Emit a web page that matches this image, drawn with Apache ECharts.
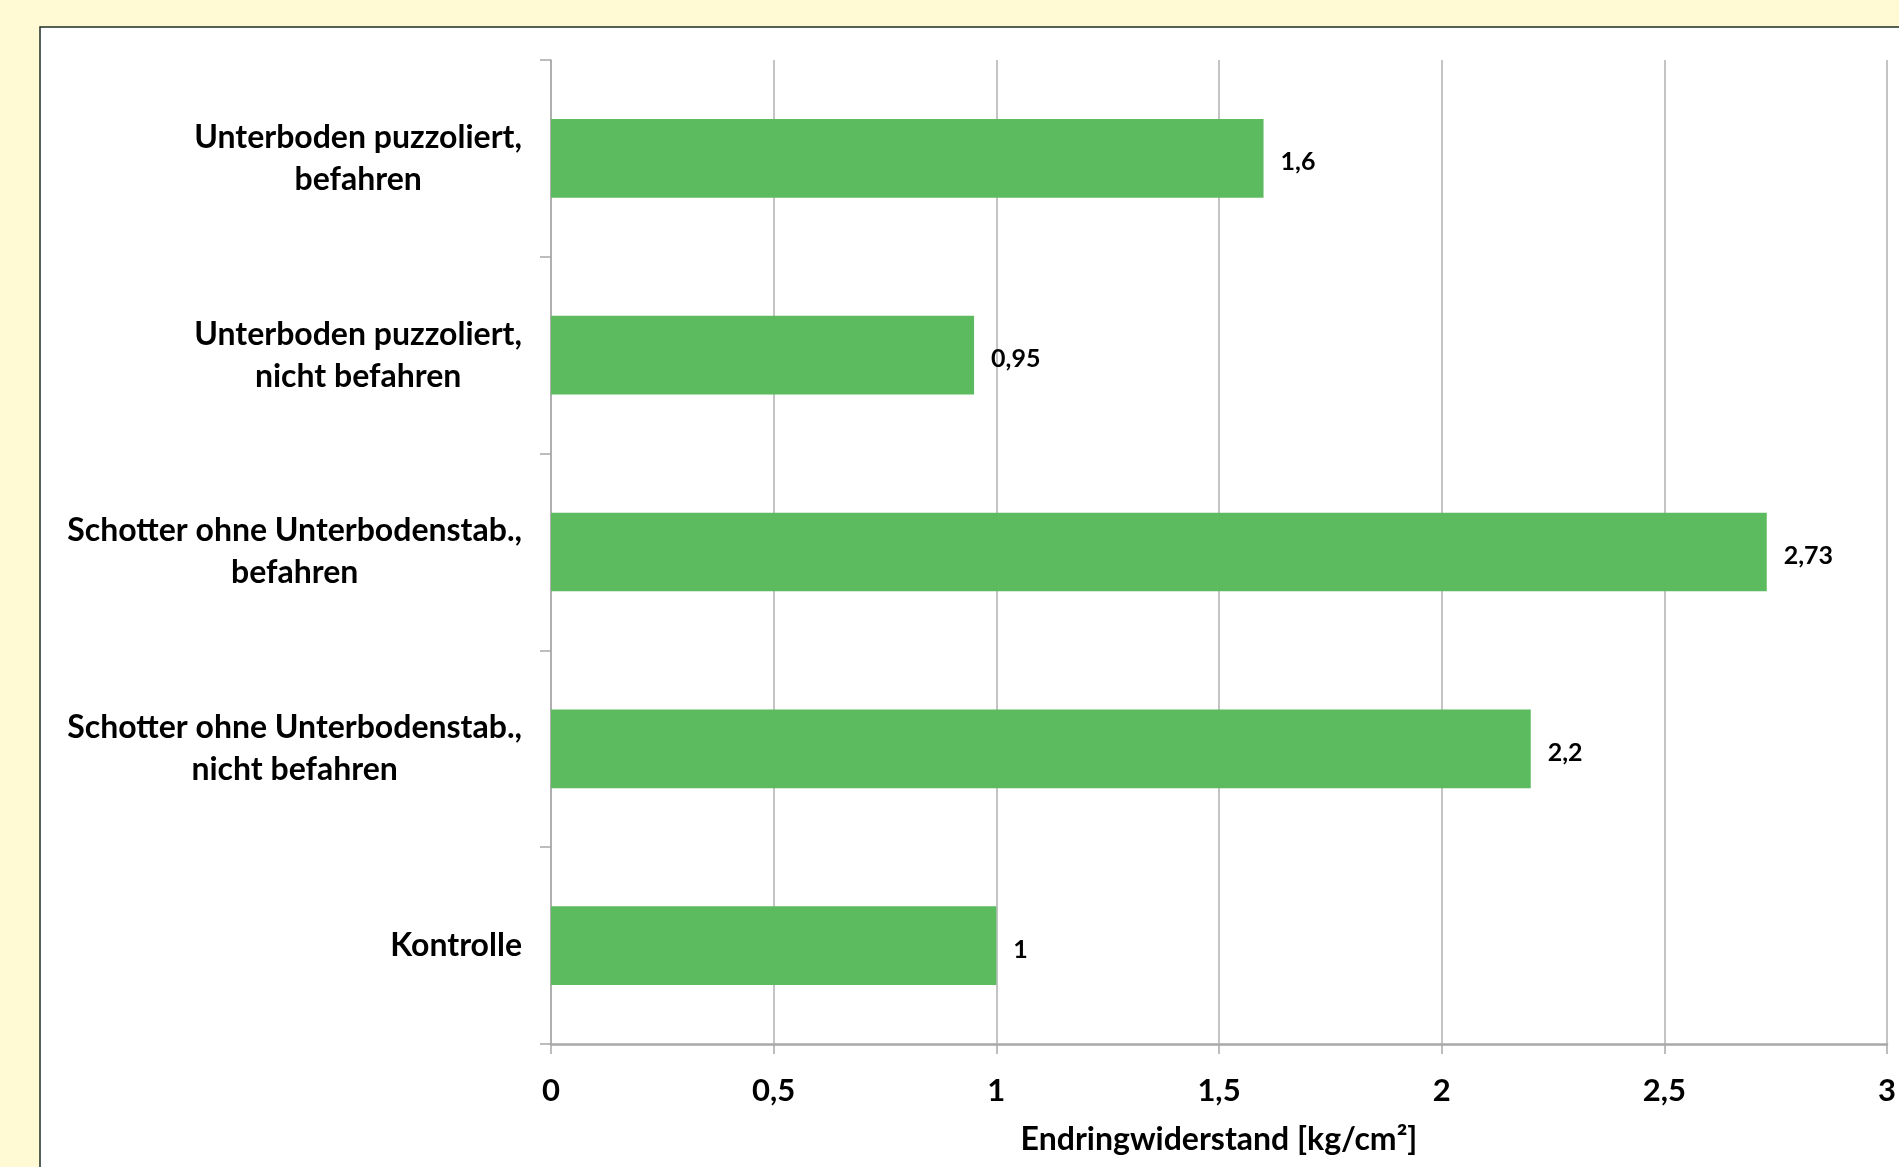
<!DOCTYPE html>
<html>
<head>
<meta charset="utf-8">
<script src="https://cdn.jsdelivr.net/npm/echarts@6/dist/echarts.min.js"></script>
<style>
  html, body { margin: 0; padding: 0; background: #fff9d4; }
  #chart { width: 1899px; height: 1167px; }
</style>
</head>
<body>
<div id="chart"></div>
<script>
// categories from top to bottom
const categories = [
    'Unterboden puzzoliert,\nbefahren',
    'Unterboden puzzoliert,\nnicht befahren',
    'Schotter ohne Unterbodenstab.,\nbefahren',
    'Schotter ohne Unterbodenstab.,\nnicht befahren',
    'Kontrolle'
]
const values = [1.6, 0.95, 2.73, 2.2, 1]
const axisTitle = 'Endringwiderstand [kg/cm²]'

const font = 'Lato'
const comma = v => String(v).replace('.', ',')

const chart = echarts.init(document.getElementById('chart'))

chart.setOption({
    backgroundColor: '#fff9d4',
    animation: false,
    graphic: [{
        type: 'rect',
        shape: { x: 40, y: 27, width: 1900, height: 1200 },
        style: { fill: '#ffffff', stroke: '#1f2e25', lineWidth: 1.5 },
        z: -10
    }],
    grid: {
        left: 551,
        top: 60,
        right: 12,
        bottom: 123
    },
    xAxis: {
        type: 'value',
        min: 0,
        max: 3,
        interval: 0.5,
        name: axisTitle,
        nameLocation: 'middle',
        nameGap: 80,
        nameTextStyle: { fontFamily: font, fontWeight: 'bold', fontSize: 32, color: '#000' },
        axisLine: { show: true, lineStyle: { color: '#a8a8a8', width: 2.5 } },
        axisTick: { show: true, length: 10, lineStyle: { color: '#a8a8a8', width: 1.5 } },
        axisLabel: {
            margin: 31,
            fontFamily: font,
            fontWeight: 'bold',
            fontSize: 31,
            color: '#000',
            formatter: comma
        },
        splitLine: { show: true, lineStyle: { color: '#b0b0b0', width: 1.5 } }
    },
    yAxis: {
        type: 'category',
        data: categories,
        inverse: true,
        axisLine: { show: true, lineStyle: { color: '#a8a8a8', width: 1.5 } },
        axisTick: { show: true, length: 11, lineStyle: { color: '#a8a8a8', width: 1.5 } },
        axisLabel: {
            margin: 29,
            color: '#000',
            fontFamily: font,
            fontWeight: 'bold',
            fontSize: 32,
            lineHeight: 42,
            formatter: v => v.split('\n').map(l => '{c|' + l + '}').join('\n'),
            rich: {
                c: {
                    align: 'center',
                    fontFamily: font,
                    fontWeight: 'bold',
                    fontSize: 32,
                    lineHeight: 42,
                    color: '#000'
                }
            }
        }
    },
    series: [{
        type: 'bar',
        data: values,
        barCategoryGap: '60%',
        itemStyle: { color: '#5dbb5f' },
        label: {
            show: true,
            position: 'right',
            distance: 17,
            offset: [0, 4],
            fontFamily: font,
            fontWeight: 'bold',
            fontSize: 25,
            color: '#000',
            formatter: p => comma(p.value)
        }
    }]
})
</script>
</body>
</html>
